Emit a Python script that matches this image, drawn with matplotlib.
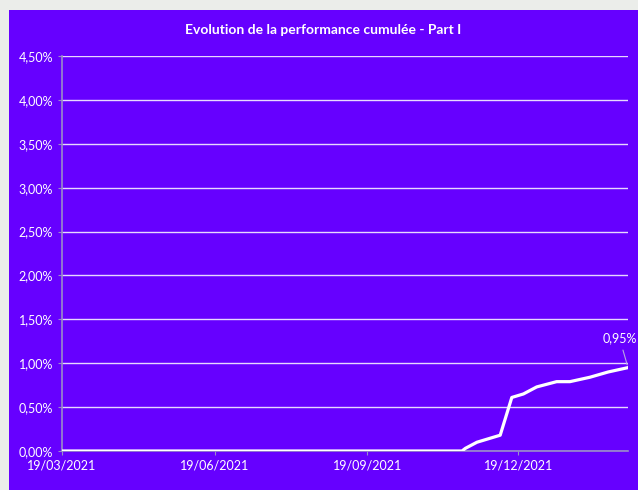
import matplotlib
matplotlib.use("Agg")
import matplotlib.pyplot as plt
import matplotlib.dates as mdates
from matplotlib.patches import Rectangle
from matplotlib.ticker import FuncFormatter
import pandas as pd

# data (cumulative performance, in %)
dates = ["2021-03-19", "2021-11-15", "2021-11-17", "2021-11-24", "2021-12-08",
         "2021-12-15", "2021-12-22", "2021-12-30", "2022-01-11", "2022-01-19",
         "2022-01-31", "2022-02-11", "2022-02-23"]
perf = [0.00, 0.00, 0.03, 0.10, 0.18, 0.61, 0.65, 0.73, 0.79, 0.79, 0.84, 0.90, 0.95]
xticks = ["2021-03-19", "2021-06-19", "2021-09-19", "2021-12-19"]
yticks = [0, 0.5, 1, 1.5, 2, 2.5, 3, 3.5, 4, 4.5]

dates = pd.to_datetime(dates)
xticks = pd.to_datetime(xticks)

purple = "#6600ff"
plt.rcParams["font.family"] = ["Lato", "DejaVu Sans"]

fig = plt.figure(figsize=(6.38, 4.9), dpi=100)
fig.patch.set_facecolor("#ebedea")
fig.patches.append(Rectangle((9 / 638, 0), 1, 1 - 10 / 490, transform=fig.transFigure,
                             facecolor=purple, edgecolor="none", zorder=-5))

ax = fig.add_axes([62 / 638, 1 - 451 / 490, 566 / 638, 395 / 490])
ax.set_facecolor(purple)

ax.plot(dates, perf, color="white", lw=2.3, solid_joinstyle="round", zorder=3)

ax.set_ylim(0, 4.5)
ax.set_xlim(dates[0], dates[-1])
ax.set_yticks(yticks)
ax.yaxis.set_major_formatter(FuncFormatter(lambda v, p: f"{v:.2f}%".replace(".", ",")))
ax.set_xticks(xticks)
ax.xaxis.set_major_formatter(mdates.DateFormatter("%d/%m/%Y"))

ax.grid(axis="y", color="white", lw=1, alpha=0.85)
ax.set_axisbelow(True)
for s in ["top", "right"]:
    ax.spines[s].set_visible(False)
ax.spines["left"].set_color("#9a8cc8")
ax.spines["bottom"].set_color("#9a8cc8")
ax.spines["left"].set_linewidth(1.2)
ax.spines["bottom"].set_linewidth(1.2)
ax.tick_params(colors="#9a8cc8", labelcolor="white", labelsize=9, length=3)
ax.tick_params(axis="x", pad=3)

ax.annotate("0,95%", xy=(dates[-1], perf[-1]), xytext=(-6, 18), textcoords="offset points",
            color="white", fontsize=9, ha="center",
            arrowprops=dict(arrowstyle="-", color="#b8a8e0", lw=0.8))

fig.text(0.5 + 4 / 638, 1 - 30 / 490, "Evolution de la performance cumulée - Part I",
         color="white", fontsize=10, fontweight="bold", ha="center", va="center")

fig.savefig("out.png", dpi=100, facecolor=fig.get_facecolor())
